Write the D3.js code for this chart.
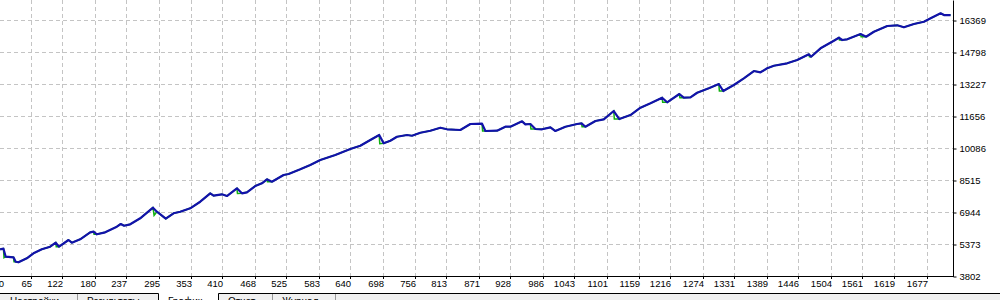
<!DOCTYPE html>
<html>
<head>
<meta charset="utf-8">
<script src="https://cdn.jsdelivr.net/npm/d3@7"></script>
<style>
  body { margin: 0; background: #fff; }
  svg { display: block; }
  text { font-family: "Liberation Sans", Arial, sans-serif; font-size: 9.5px; fill: #000; }
</style>
</head>
<body>
<div id="holder"></div>
<script>
// balance curve, trade number / balance
var tradeIdx = [10, 16, 20, 34, 38, 43, 58, 70, 85, 100, 110, 116, 133, 139, 154, 172, 178, 184, 199, 220,
  227, 233, 244, 262, 285, 292, 308, 322, 334, 352, 370, 388, 394, 409, 418, 436, 445, 454, 469, 481,
  490, 499, 520, 529, 550, 568, 586, 613, 640, 658, 676, 692, 700, 712, 724, 742, 751, 766, 784, 802,
  814, 838, 856, 877, 883, 904, 919, 928, 949, 955, 964, 973, 985, 1000, 1009, 1027, 1048, 1056, 1063, 1081,
  1096, 1114, 1124, 1144, 1162, 1180, 1201, 1210, 1232, 1240, 1252, 1264, 1285, 1303, 1311, 1330, 1348, 1366, 1378, 1390,
  1402, 1426, 1444, 1465, 1469, 1486, 1510, 1519, 1525, 1534, 1558, 1568, 1582, 1606, 1624, 1636, 1654, 1672, 1684, 1702,
  1708, 1720];
var balance = [5113, 5142, 4749, 4720, 4504, 4475, 4671, 4916, 5113, 5240, 5437, 5240, 5569, 5437, 5604, 5947, 5977, 5849, 5947, 6222,
  6355, 6271, 6340, 6634, 7155, 6958, 6615, 6880, 6958, 7125, 7449, 7862, 7744, 7813, 7729, 8107, 7862, 7911, 8220, 8353,
  8549, 8431, 8760, 8809, 9040, 9251, 9496, 9742, 10036, 10198, 10478, 10724, 10316, 10444, 10640, 10724, 10689, 10837, 10935, 11082,
  11004, 10969, 11264, 11278, 10920, 10935, 11131, 11131, 11396, 11249, 11264, 11018, 11004, 11102, 10920, 11131, 11264, 11298, 11131, 11411,
  11494, 11902, 11509, 11705, 12064, 12280, 12555, 12329, 12736, 12555, 12574, 12800, 13016, 13227, 12884, 13178, 13507, 13865, 13802, 13998,
  14126, 14243, 14405, 14685, 14568, 14980, 15353, 15500, 15387, 15422, 15682, 15549, 15795, 16075, 16109, 16011, 16173, 16286, 16452, 16698,
  16614, 16614];
// equity lows where it drops ahead of the balance
var dipIdx = [17, 35, 111, 179, 287, 437, 491, 693, 878, 965, 1057, 1115, 1202, 1233, 1304, 1466, 1520, 1559];
var dipVal = [4700, 4500, 5240, 5849, 6780, 7850, 8431, 10300, 10920, 11018, 11131, 11509, 12329, 12555, 12884, 14568, 15387, 15549];

var xTicks = [0, 65, 122, 180, 237, 295, 353, 410, 468, 525, 583, 640, 698, 756, 813, 871, 928, 986, 1043, 1101,
  1159, 1216, 1274, 1331, 1389, 1446, 1504, 1561, 1619, 1677];
var yTicks = [3802, 5373, 6944, 8515, 10086, 11656, 13227, 14798, 16369];
var tabs = ["Настройки", "Результаты", "График", "Отчет", "Журнал"];

var WIDTH = 1000, HEIGHT = 300,
    plotRight = 953, plotBottom = 276;

var svg = d3.select("#holder").append("svg")
    .attr("width", WIDTH)
    .attr("height", HEIGHT);

var x = d3.scaleLinear().domain([65, 1677]).range([30.7, 926.7]);
var y = d3.scaleLinear().domain([3802, 17352]).range([plotBottom, 0]);

function snap(v) { return Math.round(v) + 0.5; }

// grid
svg.append("g").selectAll("line")
    .data(yTicks.slice(1))
    .join("line")
    .attr("x1", 0).attr("x2", plotRight)
    .attr("y1", function(d) { return snap(y(d)); })
    .attr("y2", function(d) { return snap(y(d)); })
    .attr("stroke", "#c4c4c4")
    .attr("stroke-dasharray", "4,3");
svg.append("g").selectAll("line")
    .data(xTicks.slice(1))
    .join("line")
    .attr("y1", 0).attr("y2", plotBottom)
    .attr("x1", function(d) { return snap(x(d)); })
    .attr("x2", function(d) { return snap(x(d)); })
    .attr("stroke", "#c4c4c4")
    .attr("stroke-dasharray", "4,3");

// lines
svg.append("clipPath").attr("id", "plot")
  .append("rect").attr("x", 0).attr("y", 0).attr("width", plotRight).attr("height", plotBottom);

var bal = tradeIdx.map(function(d, i) { return [d, balance[i]]; });
var eq = bal.concat(dipIdx.map(function(d, i) { return [d, dipVal[i]]; }))
    .sort(function(a, b) { return a[0] - b[0]; });

var line = d3.line()
    .x(function(d) { return x(d[0]); })
    .y(function(d) { return y(d[1]); });

svg.append("path")
    .datum(eq)
    .attr("clip-path", "url(#plot)")
    .attr("fill", "none")
    .attr("stroke", "#10b010")
    .attr("stroke-width", 1.5)
    .attr("d", line);
svg.append("path")
    .datum(bal)
    .attr("clip-path", "url(#plot)")
    .attr("fill", "none")
    .attr("stroke", "#1212aa")
    .attr("stroke-width", 2.2)
    .attr("stroke-linejoin", "round")
    .attr("d", line);

// right axis
var yAxis = svg.append("g")
    .attr("transform", "translate(" + (plotRight + 0.5) + ",0.5)")
    .call(d3.axisRight(y).tickValues(yTicks).tickFormat(d3.format("d"))
        .tickSize(3).tickPadding(3).tickSizeOuter(0));
yAxis.select(".domain").attr("d", "M0,0V" + plotBottom);
yAxis.selectAll("text").attr("font-family", null).attr("font-size", null);

// bottom axis
svg.append("line")
    .attr("x1", 0).attr("x2", plotRight + 1)
    .attr("y1", plotBottom + 0.5).attr("y2", plotBottom + 0.5)
    .attr("stroke", "#000");
var xt = svg.append("g").selectAll("g")
    .data(xTicks)
    .join("g")
    .attr("transform", function(d) { return "translate(" + snap(Math.max(x(d), 3)) + "," + plotBottom + ")"; });
xt.filter(function(d) { return d > 0; }).append("line")
    .attr("y1", 0).attr("y2", 3).attr("stroke", "#000");
xt.append("text")
    .attr("text-anchor", "end")
    .attr("x", 0.5)
    .attr("y", 11)
    .text(function(d) { return d; });

// tab strip (window bottom, tab captions run past the edge)
var tabX = [0, 77, 158, 218, 272, 335];
svg.append("rect").attr("x", 0).attr("y", 293).attr("width", WIDTH).attr("height", 7).attr("fill", "#f0f0f0");
svg.append("rect").attr("x", tabX[2]).attr("y", 293).attr("width", tabX[3] - tabX[2]).attr("height", 7).attr("fill", "#fff");
svg.append("path")
    .attr("fill", "none").attr("stroke", "#000")
    .attr("d", "M0,293.5H" + (tabX[2] + 0.5) + "V300M" + (tabX[3] + 0.5) + ",300V293.5H" + WIDTH);
svg.append("g").selectAll("line")
    .data([tabX[1], tabX[4], tabX[5]])
    .join("line")
    .attr("x1", function(d) { return d + 0.5; }).attr("x2", function(d) { return d + 0.5; })
    .attr("y1", 294).attr("y2", 300)
    .attr("stroke", "#999");
svg.append("g").selectAll("text")
    .data(tabs)
    .join("text")
    .attr("x", function(d, i) { return tabX[i] + 10; })
    .attr("y", 305)
    .style("font-size", "10px")
    .text(function(d) { return d; });
</script>
</body>
</html>
